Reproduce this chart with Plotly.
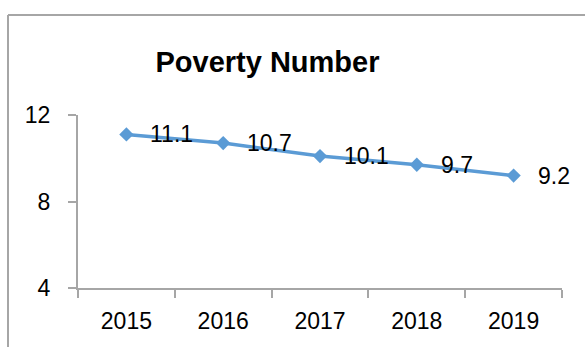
import plotly.graph_objects as go

years = ["2015", "2016", "2017", "2018", "2019"]
poverty = [11.1, 10.7, 10.1, 9.7, 9.2]
y_ticks = [4, 8, 12]

W, H = 585, 347
L, R, T, B = 78, 23, 115, 59
pw, ph = W - L - R, H - T - B

def px_x(x):
    return (x - L) / pw

def px_y(y):
    return (H - B - y) / ph

FONT = "Liberation Sans"
BLUE = "#5B9BD5"
GREY = "#A6A6A6"

fig = go.Figure()
fig.add_trace(go.Scatter(
    x=years, y=poverty, mode="lines+markers",
    line=dict(color=BLUE, width=3.5),
    marker=dict(symbol="diamond", size=11, color=BLUE),
    hoverinfo="skip", showlegend=False,
))

# value labels to the right of each point (category index on x)
for i, v in enumerate(poverty):
    fig.add_annotation(x=i, y=v, xref="x", yref="y", text=f"{v:g}",
                       showarrow=False, xanchor="left", yanchor="middle",
                       xshift=22, font=dict(family=FONT, size=23, color="black"))

fig.update_layout(
    width=W, height=H,
    margin=dict(l=L, r=R, t=T, b=B),
    paper_bgcolor="white", plot_bgcolor="white",
    title=dict(text="<b>Poverty Number</b>", x=267.5 / W,
               xanchor="center", y=1 - 62 / H, yanchor="middle",
               font=dict(family=FONT, size=29, color="black")),
    xaxis=dict(type="category", showgrid=False, showline=True,
               linecolor=GREY, linewidth=2, ticks="outside", ticklen=8,
               tickwidth=2, tickcolor=GREY, tickson="boundaries",
               tickfont=dict(family=FONT, size=23, color="black"),
               ticklabelstandoff=11, range=[-0.5, 4.5]),
    yaxis=dict(range=[4, 12], tickvals=y_ticks, showgrid=False,
               showline=True, linecolor=GREY, linewidth=2,
               ticks="outside", ticklen=8, tickwidth=2, tickcolor=GREY,
               tickfont=dict(family=FONT, size=23, color="black"),
               ticklabelstandoff=13, zeroline=False),
    shapes=[
        dict(type="line", xref="paper", yref="paper",
             x0=px_x(8), x1=px_x(W + 5), y0=px_y(15), y1=px_y(15),
             line=dict(color=GREY, width=2)),
        dict(type="line", xref="paper", yref="paper",
             x0=px_x(8), x1=px_x(8), y0=px_y(15), y1=px_y(H + 5),
             line=dict(color=GREY, width=2)),
    ],
)

fig.write_html("out.html")
